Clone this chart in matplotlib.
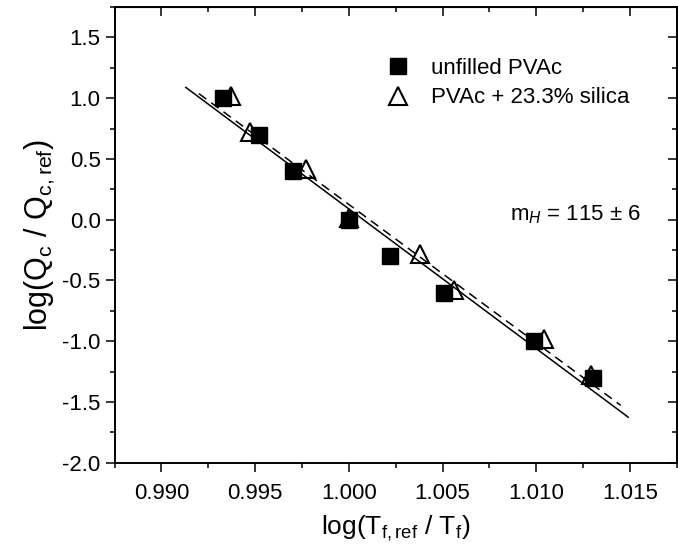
import matplotlib
matplotlib.use("Agg")
import matplotlib.pyplot as plt
from matplotlib.ticker import MultipleLocator, FormatStrFormatter
import numpy as np

plt.rcParams['font.family'] = ['Liberation Sans', 'DejaVu Sans']
plt.rcParams['mathtext.fontset'] = 'custom'
plt.rcParams['mathtext.rm'] = 'Liberation Sans'
plt.rcParams['mathtext.it'] = 'Liberation Sans:italic'

# data
x_unfilled = [0.9933, 0.9952, 0.9970, 1.0000, 1.0022, 1.0051, 1.0099, 1.0130]
y_unfilled = [1.00, 0.70, 0.40, 0.00, -0.30, -0.60, -1.00, -1.30]
x_silica = [0.9937, 0.9947, 0.9977, 1.0000, 1.0038, 1.0056, 1.0104, 1.0129]
y_silica = [1.02, 0.72, 0.42, 0.01, -0.28, -0.58, -0.98, -1.28]

# fitted lines (intercept at x = 1, slope)
fit_unfilled = (0.088, -115.0)
fit_silica = (0.125, -114.0)
fit_range_unfilled = [0.9913, 1.0149]
fit_range_silica = [0.9920, 1.0145]

fig = plt.figure(figsize=(6.78, 5.54), dpi=100)
ax = fig.add_axes([0.1689, 0.1648, 0.8296, 0.8226])

xs = np.array(fit_range_unfilled)
ax.plot(xs, fit_unfilled[0] + fit_unfilled[1] * (xs - 1), color='black', lw=1.1)
xs = np.array(fit_range_silica)
ax.plot(xs, fit_silica[0] + fit_silica[1] * (xs - 1), color='black', lw=1.1,
        linestyle=(0, (6, 4)))

ax.plot(x_silica, y_silica, linestyle='none', marker='^', ms=12.5,
        mfc='none', mec='black', mew=1.5, label='PVAc + 23.3% silica', zorder=3)
ax.plot(x_unfilled, y_unfilled, linestyle='none', marker='s', ms=11.3,
        mfc='black', mec='black', label='unfilled PVAc', zorder=3)

ax.set_xlim(0.9875, 1.0175)
ax.set_ylim(-2.0, 1.75)
ax.xaxis.set_major_locator(MultipleLocator(0.005))
ax.xaxis.set_minor_locator(MultipleLocator(0.0025))
ax.yaxis.set_major_locator(MultipleLocator(0.5))
ax.yaxis.set_minor_locator(MultipleLocator(0.25))
ax.xaxis.set_major_formatter(FormatStrFormatter('%.3f'))
ax.yaxis.set_major_formatter(FormatStrFormatter('%.1f'))

ax.tick_params(which='both', direction='out', top=False, right=False, width=1.1,
               labelsize=16)
ax.tick_params(which='major', length=6.5)
ax.tick_params(which='minor', length=3.6)
ax.tick_params(axis='x', which='major', pad=8)
for s in ax.spines.values():
    s.set_linewidth(1.4)

# mirrored ticks pointing inward on top and right
axt = ax.secondary_xaxis('top')
axt.xaxis.set_major_locator(MultipleLocator(0.005))
axt.xaxis.set_minor_locator(MultipleLocator(0.0025))
axt.tick_params(which='both', direction='in', labeltop=False, width=1.1)
axt.tick_params(which='major', length=6.5)
axt.tick_params(which='minor', length=3.6)
axr = ax.secondary_yaxis('right')
axr.yaxis.set_major_locator(MultipleLocator(0.5))
axr.yaxis.set_minor_locator(MultipleLocator(0.25))
axr.tick_params(which='both', direction='in', labelright=False, width=1.1)
axr.tick_params(which='major', length=6.5)
axr.tick_params(which='minor', length=3.6)

ax.set_xlabel(r'log(T$_{\mathrm{f,ref}}$ / T$_{\mathrm{f}}$)', fontsize=19, labelpad=7)
ax.set_ylabel(r'log(Q$_{\mathrm{c}}$ / Q$_{\mathrm{c,ref}}$)', fontsize=22, labelpad=4)

handles, labels = ax.get_legend_handles_labels()
ax.legend(handles[::-1], labels[::-1], loc='upper left', bbox_to_anchor=(0.4837, 0.889),
          frameon=False, fontsize=16, borderpad=0, borderaxespad=0, handlelength=1.0,
          handletextpad=1.0, labelspacing=0.4)

ax.text(0.703, 0.5436, r'm$_{\it{H}}$ = 115 $\pm$ 6', transform=ax.transAxes,
        fontsize=16, ha='left', va='center')

fig.savefig('out.png', dpi=100)
